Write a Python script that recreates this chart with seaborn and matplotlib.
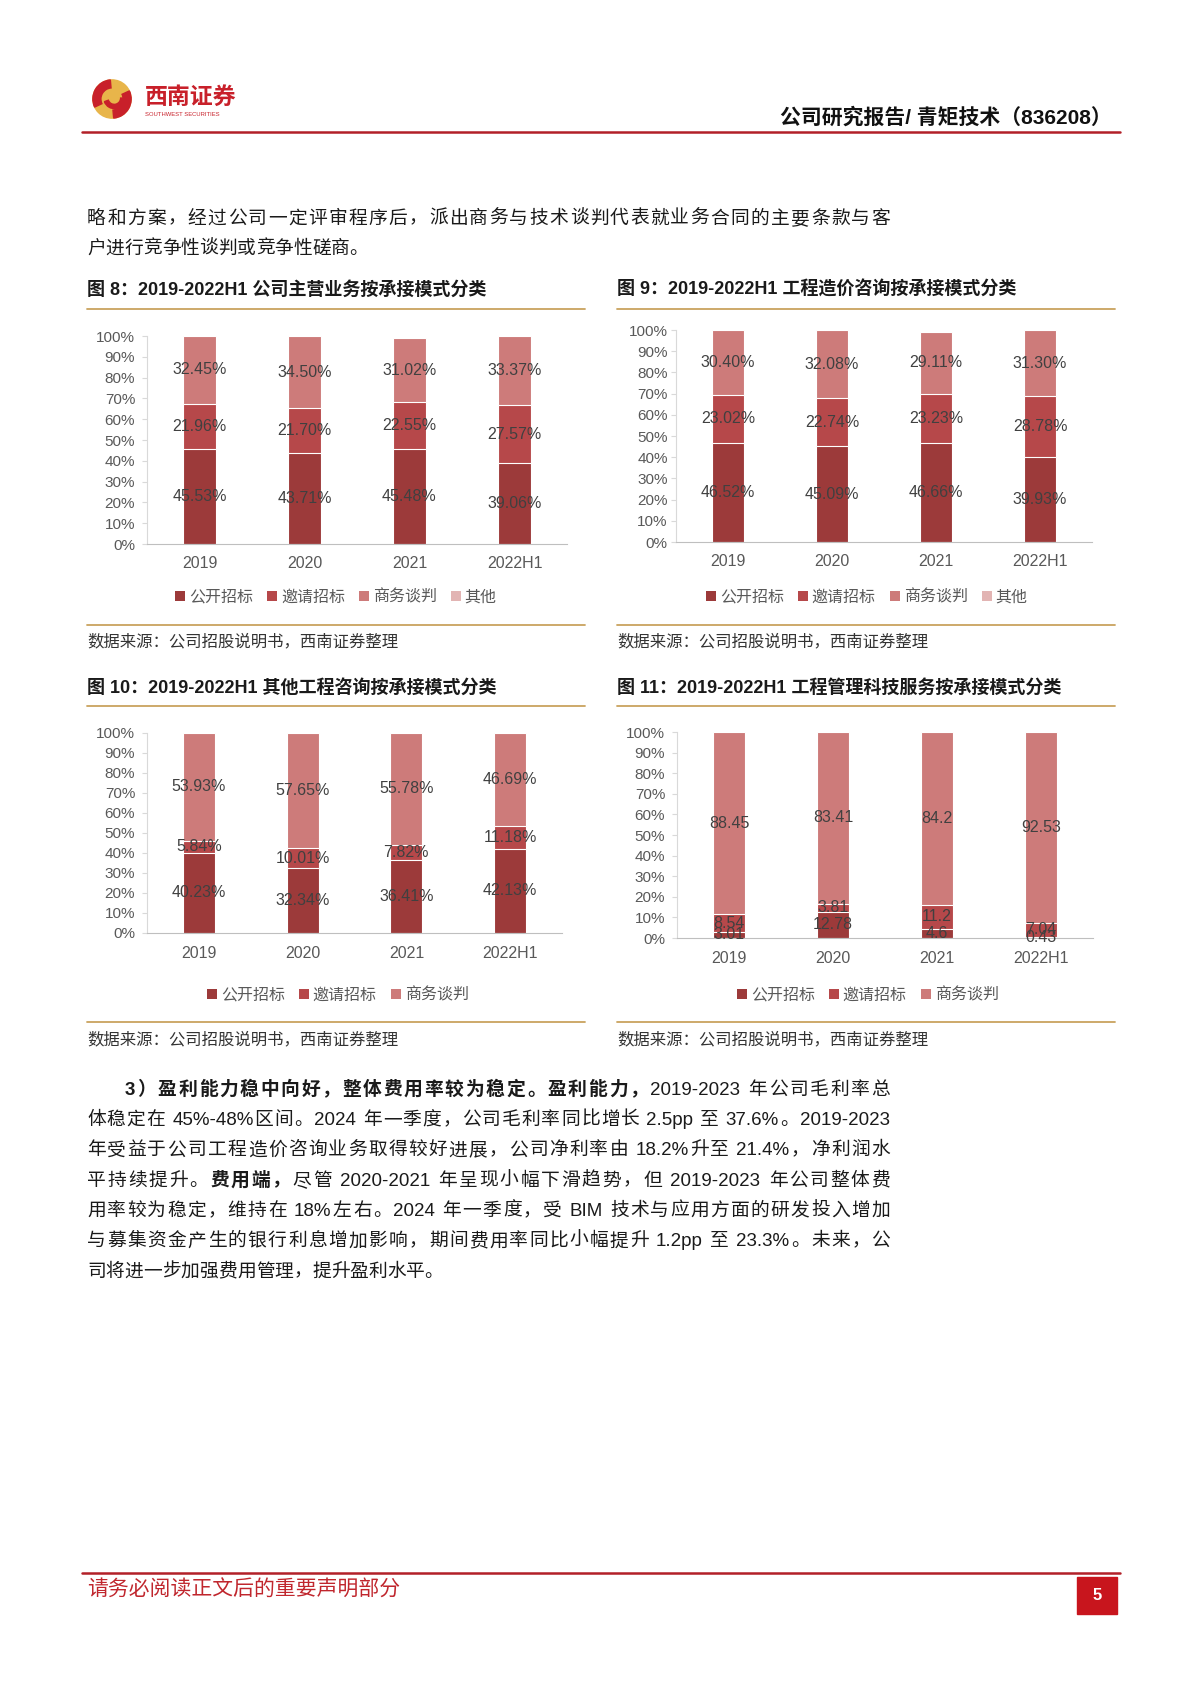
import matplotlib
matplotlib.use('Agg')
import matplotlib.pyplot as plt
from matplotlib.patches import Patch, Rectangle, Circle, Wedge
from matplotlib.lines import Line2D
import numpy as np
import pandas as pd
import seaborn as sns

W, H = 1200, 1698

# ---------------- data ----------------
years = ['2019', '2020', '2021', '2022H1']
series4 = ['公开招标', '邀请招标', '商务谈判', '其他']
series3 = ['公开招标', '邀请招标', '商务谈判']

# 图8 公司主营业务
f8_open = [45.53, 43.71, 45.48, 39.06]
f8_invite = [21.96, 21.70, 22.55, 27.57]
f8_nego = [32.45, 34.50, 31.02, 33.37]
f8_other = [0.06, 0.09, 0.0, 0.0]

# 图9 工程造价咨询
f9_open = [46.52, 45.09, 46.66, 39.93]
f9_invite = [23.02, 22.74, 23.23, 28.78]
f9_nego = [30.40, 32.08, 29.11, 31.30]
f9_other = [0.06, 0.09, 0.0, 0.0]

# 图10 其他工程咨询
f10_open = [40.23, 32.34, 36.41, 42.13]
f10_invite = [5.84, 10.01, 7.82, 11.18]
f10_nego = [53.93, 57.65, 55.78, 46.69]

# 图11 工程管理科技服务
f11_open = [3.01, 12.78, 4.6, 0.43]
f11_invite = [8.54, 3.81, 11.2, 7.04]
f11_nego = [88.45, 83.41, 84.2, 92.53]

titles = ['图 8：2019-2022H1 公司主营业务按承接模式分类',
          '图 9：2019-2022H1 工程造价咨询按承接模式分类',
          '图 10：2019-2022H1 其他工程咨询按承接模式分类',
          '图 11：2019-2022H1 工程管理科技服务按承接模式分类']
source = '数据来源：公司招股说明书，西南证券整理'

COLORS = {'公开招标': '#9C3A3A', '邀请招标': '#B6484A',
          '商务谈判': '#CD7B7A', '其他': '#E2B4B3'}
GOLD = '#C9A25E'
RED = '#C0262D'
TXT = '#595959'

sns.set_style('white')
plt.rcParams['font.family'] = ['Liberation Sans', 'Noto Sans CJK SC', 'DejaVu Sans']

fig = plt.figure(figsize=(W / 100, H / 100), dpi=100)
renderer = fig.canvas.get_renderer()


def fx(px):
    return px / W


def fy(py):
    return 1 - py / H


def hline(x0, x1, y, color, lw):
    fig.add_artist(Line2D([fx(x0), fx(x1)], [fy(y), fy(y)], color=color, lw=lw,
                          transform=fig.transFigure))


def stacked(box, names, values, fmt, ypad):
    l, r, t, b = box
    ax = fig.add_axes([fx(l), fy(b), (r - l) / W, (b - t) / H])
    df = pd.DataFrame({'year': years * len(names),
                       'series': np.repeat(names, len(years)),
                       'value': np.concatenate(values)})
    df['top'] = df.groupby('year')['value'].cumsum()
    df['mid'] = df['top'] - df['value'] / 2
    # draw cumulative totals from the top series down so each layer covers the next
    for name in reversed(names):
        sub = df[df['series'] == name]
        sns.barplot(data=sub, x='year', y='top', order=years, color=COLORS[name],
                    saturation=1, width=0.31, edgecolor='white', linewidth=0.8,
                    errorbar=None, ax=ax)
    for row in df.itertuples():
        if row.series == '其他':
            continue
        ax.text(years.index(row.year), row.mid, fmt(row.value), ha='center',
                va='center', fontsize=11.5, color='#404040')
    ax.set_xlim(-0.5, 3.5)
    ax.set_ylim(0, 100)
    ax.set_yticks(range(0, 101, 10))
    ax.set_yticklabels([f'{v}%' for v in range(0, 101, 10)])
    ax.set_xlabel('')
    ax.set_ylabel('')
    ax.tick_params(axis='y', length=3.5, color='#d9d9d9', pad=ypad, labelsize=11,
                   labelcolor=TXT, left=True)
    ax.tick_params(axis='x', length=0, pad=9, labelsize=11.5, labelcolor=TXT)
    for s in ['top', 'right']:
        ax.spines[s].set_visible(False)
    ax.spines['left'].set_color('#d9d9d9')
    ax.spines['bottom'].set_color('#bfbfbf')
    ax.patch.set_alpha(0)
    return ax


def legend(names, cx, cy):
    handles = [Patch(facecolor=COLORS[n], edgecolor='none') for n in names]
    leg = fig.legend(handles, names, loc='center', bbox_to_anchor=(fx(cx), fy(cy)),
                     ncol=len(names), frameon=False, handlelength=0.6, handleheight=0.6,
                     handletextpad=0.25, columnspacing=0.9, fontsize=11.5)
    for t in leg.get_texts():
        t.set_color(TXT)


pct = lambda v: f'{v:.2f}%'
num = lambda v: f'{v:g}'

# ---------------- panels ----------------
panels = [
    (87, 585, 290, 309, 625, 642),
    (617, 1115, 290, 309, 625, 642),
    (87, 585, 688, 706, 1022, 1040),
    (617, 1115, 688, 706, 1022, 1040),
]
for (x0, x1, ty, gy, by, sy), title in zip(panels, titles):
    fig.text(fx(x0), fy(ty), title, fontsize=13, weight='bold', va='center', color='#1a1a1a')
    hline(x0, x1, gy, GOLD, 1.3)
    hline(x0, x1, by, GOLD, 1.3)
    fig.text(fx(x0), fy(sy), source, fontsize=11.8, style='italic', va='center', color='#333333')

stacked((147, 567, 336, 544), series4, [f8_open, f8_invite, f8_nego, f8_other], pct, 5)
stacked((676, 1092, 330, 542), series4, [f9_open, f9_invite, f9_nego, f9_other], pct, 2.5)
stacked((147, 562, 733, 933), series3, [f10_open, f10_invite, f10_nego], pct, 5)
stacked((677, 1093, 732, 938), series3, [f11_open, f11_invite, f11_nego], num, 5)

legend(series4, 336, 597)
legend(series4, 867, 597)
legend(series3, 338, 995)
legend(series3, 868, 995)

# ---------------- header / footer ----------------
hline(82, 1120, 132, '#B22028', 1.8)
fig.text(fx(1112), fy(117), '公司研究报告/ 青矩技术（836208）', fontsize=15, weight='bold',
         ha='right', va='center', color='#111111')
# logo
logo_ax = fig.add_axes([fx(90), fy(122), 44 / W, 46 / H])
logo_ax.set_xlim(-1.15, 1.15)
logo_ax.set_ylim(-1.2, 1.2)
logo_ax.set_aspect('equal')
logo_ax.axis('off')
logo_ax.add_patch(Circle((0, 0), 1, color='#E8B54A'))
logo_ax.add_patch(Wedge((0, 0), 1, 95, 205, width=0.42, color='#C8202A'))
logo_ax.add_patch(Wedge((0, 0), 1, 275, 25, width=0.42, color='#C8202A'))
logo_ax.add_patch(Wedge((0.12, 0.05), 0.55, 200, 360, width=0.22, color='#C8202A'))
fig.text(fx(145), fy(97), '西南证券', fontsize=16.5, weight='bold', va='center', color='#C8202A')
fig.text(fx(145), fy(115), 'SOUTHWEST SECURITIES', fontsize=4.2, va='center', color='#C8202A')

hline(82, 1120, 1573, '#B22028', 1.8)
fig.text(fx(87), fy(1590), '请务必阅读正文后的重要声明部分', fontsize=15, va='center', color=RED)
fig.add_artist(Rectangle((fx(1077), fy(1614)), 40 / W, 37 / H, color='#C8151D',
                         transform=fig.transFigure))
fig.text(fx(1097), fy(1595), '5', fontsize=12, weight='bold', ha='center', va='center',
         color='white')


# ---------------- body text (justified) ----------------
def is_cjk(c):
    return ord(c) >= 0x2E80


def put_line(segments, yc, x0, x1=890, size=13.5, justify=True):
    toks = []
    for text, bold in segments:
        buf = ''
        for c in text:
            if c == ' ' or is_cjk(c):
                if buf:
                    toks.append((buf, bold))
                    buf = ''
                toks.append((c, bold))
            else:
                buf += c
        if buf:
            toks.append((buf, bold))
    em = size * 100 / 72
    base = fy(yc + 0.36 * em)
    arts, widths = [], []
    for s, bold in toks:
        if s == ' ':
            arts.append(None)
            widths.append(0.25 * em)
            continue
        t = fig.text(0, base, s, fontsize=size, weight='bold' if bold else 'normal',
                     va='baseline', ha='left', color='#1a1a1a')
        arts.append(t)
        widths.append(t.get_window_extent(renderer).width)
    gap = 0.0
    if justify and len(toks) > 1:
        gap = ((x1 - x0) - sum(widths)) / (len(toks) - 1)
    x = x0
    for a, w in zip(arts, widths):
        if a is not None:
            a.set_x(fx(x))
        x += w + gap


put_line([('略和方案，经过公司一定评审程序后，派出商务与技术谈判代表就业务合同的主要条款与客', False)], 217, 87)
put_line([('户进行竞争性谈判或竞争性磋商。', False)], 247, 87, justify=False)

body = [
    ([('3）盈利能力稳中向好，整体费用率较为稳定。盈利能力，', True),
      ('2019-2023 年公司毛利率总', False)], 125, True),
    ([('体稳定在 45%-48%区间。2024 年一季度，公司毛利率同比增长 2.5pp 至 37.6%。2019-2023', False)], 87, True),
    ([('年受益于公司工程造价咨询业务取得较好进展，公司净利率由 18.2%升至 21.4%，净利润水', False)], 87, True),
    ([('平持续提升。', False), ('费用端，', True),
      ('尽管 2020-2021 年呈现小幅下滑趋势，但 2019-2023 年公司整体费', False)], 87, True),
    ([('用率较为稳定，维持在 18%左右。2024 年一季度，受 BIM 技术与应用方面的研发投入增加', False)], 87, True),
    ([('与募集资金产生的银行利息增加影响，期间费用率同比小幅提升 1.2pp 至 23.3%。未来，公', False)], 87, True),
    ([('司将进一步加强费用管理，提升盈利水平。', False)], 87, False),
]
for i, (segs, x0, just) in enumerate(body):
    put_line(segs, 1088 + i * 30.3, x0, justify=just)

fig.savefig('out.png', dpi=100)
